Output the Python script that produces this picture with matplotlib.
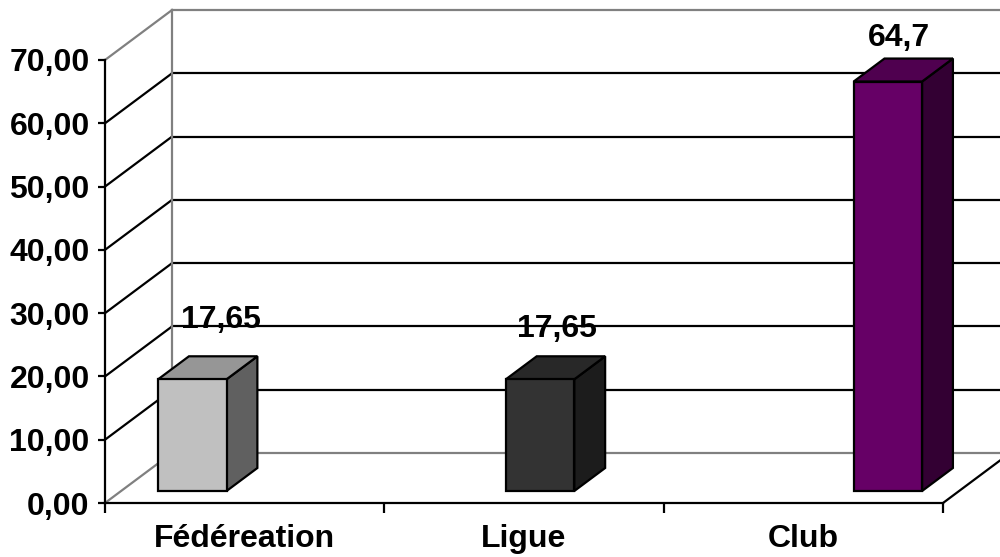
import matplotlib
matplotlib.use("Agg")
import matplotlib.pyplot as plt
from matplotlib.patches import Polygon

plt.rcParams['font.family'] = ['Liberation Sans', 'DejaVu Sans']

# Données
categories = ['Fédéreation', 'Ligue', 'Club']
values = [17.65, 17.65, 64.7]
front_colors = ['#c0c0c0', '#333333', '#660066']
top_colors = ['#969696', '#282828', '#4f004f']
side_colors = ['#606060', '#1c1c1c', '#330033']
y_ticks = [0, 10, 20, 30, 40, 50, 60, 70]

# Décalage de profondeur (effet 3D) en unités des axes
DX, DY = 0.24, 7.9
bar_w = 0.245
d0, d1 = 0.24, 0.70
spread = 1.245
label_nudge = [(0.047, 7.6), (0.004, 6.1), (-0.016, 5.0)]

GRID = 'black'
GRAY = '#808080'
LW = 1.6
FS = 23

fig = plt.figure(figsize=(10, 5.57), dpi=100)
ax = fig.add_axes([0.105, 54 / 557, 0.838, 443 / 557])
ax.set_xlim(0, len(categories))
ax.set_ylim(y_ticks[0], y_ticks[-1])
ax.patch.set_alpha(0)

# Mur du fond + lignes de quadrillage
for t in y_ticks:
    col = GRAY if t in (y_ticks[0], y_ticks[-1]) else GRID
    ax.plot([0, DX], [t, t + DY], color=col, lw=LW, clip_on=False, zorder=1)
    ax.plot([DX, len(categories) + DX], [t + DY, t + DY], color=col, lw=LW,
            clip_on=False, zorder=1)
ax.plot([DX, DX], [DY, y_ticks[-1] + DY], color=GRAY, lw=LW, clip_on=False, zorder=1)
ax.plot([len(categories), len(categories) + DX], [0, DY], color='black', lw=LW,
        clip_on=False, zorder=1)

# Barres 3D
mid = (len(categories) - 1) / 2
for i, v in enumerate(values):
    xc = mid + 0.5 + (i - mid) * spread
    xl = xc - bar_w / 2
    xr = xl + bar_w
    a, b = d0 * DX, d0 * DY
    c, d = d1 * DX, d1 * DY
    front = [(xl + a, b), (xr + a, b), (xr + a, v + b), (xl + a, v + b)]
    top = [(xl + a, v + b), (xr + a, v + b), (xr + c, v + d), (xl + c, v + d)]
    side = [(xr + a, b), (xr + c, d), (xr + c, v + d), (xr + a, v + b)]
    for pts, col in ((side, side_colors[i]), (top, top_colors[i]), (front, front_colors[i])):
        ax.add_patch(Polygon(pts, closed=True, facecolor=col, edgecolor='black',
                             lw=LW, joinstyle='miter', clip_on=False, zorder=3))
    tx = xc + (a + c) / 2 + label_nudge[i][0]
    ty = v + (b + d) / 2 + label_nudge[i][1]
    ax.text(tx, ty, f"{v:g}".replace('.', ','), ha='center', va='center',
            fontsize=FS, fontweight='bold', zorder=5, clip_on=False)

# Axes
for s in ('top', 'right'):
    ax.spines[s].set_visible(False)
for s in ('left', 'bottom'):
    ax.spines[s].set_linewidth(LW)
    ax.spines[s].set_zorder(4)

ax.set_yticks(y_ticks)
ax.set_yticklabels([f"{t:.2f}".replace('.', ',') for t in y_ticks],
                   fontsize=FS, fontweight='bold')
ax.tick_params(axis='y', length=5, width=LW, pad=6)

ax.set_xticks(range(len(categories) + 1))
ax.set_xticklabels([])
ax.tick_params(axis='x', which='major', length=7, width=LW)
ax.set_xticks([i + 0.5 for i in range(len(categories))], minor=True)
ax.set_xticklabels(categories, minor=True, fontsize=FS, fontweight='bold')
ax.tick_params(axis='x', which='minor', length=0, pad=15)

fig.savefig('out.png', dpi=100)
